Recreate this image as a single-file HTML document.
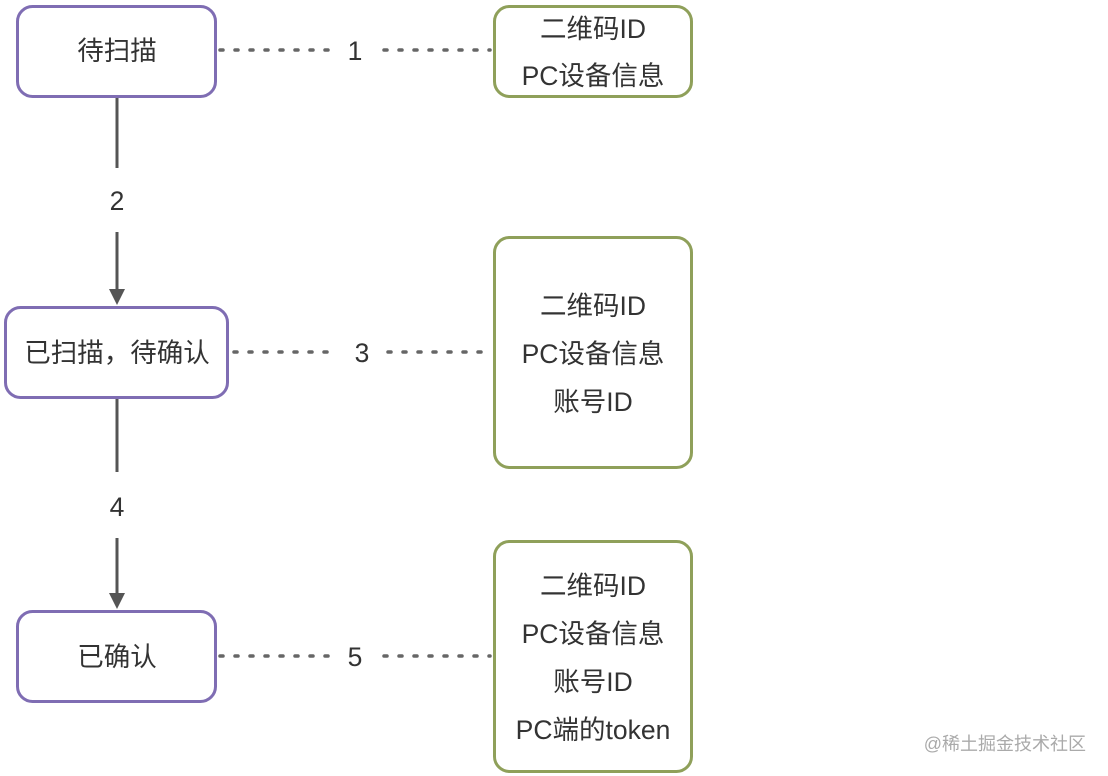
<!DOCTYPE html>
<html><head><meta charset="utf-8"><style>
html,body{margin:0;padding:0;background:#fff;}
body{width:1108px;height:776px;position:relative;overflow:hidden;font-family:"Liberation Sans","Noto Sans CJK SC",sans-serif;}
</style></head><body>
<svg width="1108" height="776" viewBox="0 0 1108 776" xmlns="http://www.w3.org/2000/svg" style="position:absolute;left:0;top:0">
<g fill="none" stroke-width="3">
<rect x="17.5" y="6.5" width="198" height="90" rx="15" stroke="#7f6db3"/>
<rect x="5.5" y="307.5" width="222" height="90" rx="15" stroke="#7f6db3"/>
<rect x="17.5" y="611.5" width="198" height="90" rx="15" stroke="#7f6db3"/>
<rect x="494.5" y="6.5" width="197" height="90" rx="15" stroke="#8fa05a"/>
<rect x="494.5" y="237.5" width="197" height="230" rx="15" stroke="#8fa05a"/>
<rect x="494.5" y="541.5" width="197" height="230" rx="15" stroke="#8fa05a"/>
</g>
<g stroke="#555" stroke-width="3" fill="none">
<line x1="117" y1="98" x2="117" y2="168"/>
<line x1="117" y1="232" x2="117" y2="290"/>
<line x1="117" y1="399" x2="117" y2="472"/>
<line x1="117" y1="538" x2="117" y2="594"/>
</g>
<g fill="#555">
<polygon points="109,289 125,289 117,305"/>
<polygon points="109,593 125,593 117,609"/>
</g>
<g stroke="#666" stroke-width="3.5" stroke-dasharray="3,12" stroke-linecap="round" fill="none">
<line x1="220" y1="50" x2="332" y2="50"/>
<line x1="384" y1="50" x2="490" y2="50"/>
<line x1="234" y1="352" x2="332" y2="352"/>
<line x1="388" y1="352" x2="490" y2="352"/>
<line x1="220" y1="656" x2="332" y2="656"/>
<line x1="384" y1="656" x2="490" y2="656"/>
</g>
<g font-family="Liberation Sans, Noto Sans CJK SC, sans-serif" font-size="26.5" fill="#333" text-anchor="middle">
<text x="117" y="60">待扫描</text>
<text x="117" y="362">已扫描，待确认</text>
<text x="117" y="666">已确认</text>
<text x="355" y="60">1</text>
<text x="117" y="210">2</text>
<text x="362" y="362">3</text>
<text x="117" y="516">4</text>
<text x="355" y="666">5</text>
<text x="593" y="38">二维码ID</text>
<text x="593" y="85">PC设备信息</text>
<text x="593" y="315">二维码ID</text>
<text x="593" y="363">PC设备信息</text>
<text x="593" y="411">账号ID</text>
<text x="593" y="595">二维码ID</text>
<text x="593" y="643">PC设备信息</text>
<text x="593" y="691">账号ID</text>
<text x="593" y="739">PC端的token</text>
</g>
<text x="1086" y="750" text-anchor="end" font-family="Liberation Sans, Noto Sans CJK SC, sans-serif" font-size="18" fill="#aaa">@稀土掘金技术社区</text>
</svg>
</body></html>
